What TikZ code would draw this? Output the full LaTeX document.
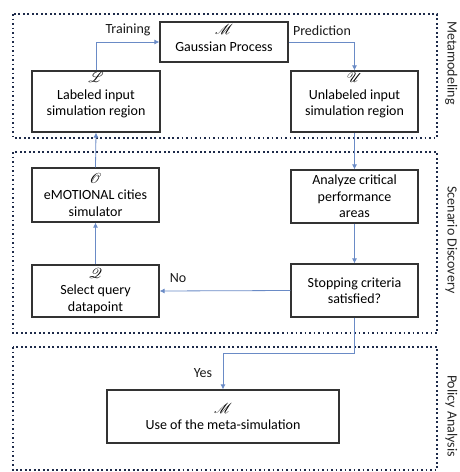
\documentclass[tikz,border=0pt]{standalone}
\usepackage{fontspec}
\setmainfont{Carlito}
\usepackage{mathrsfs}
\usetikzlibrary{arrows.meta}
\definecolor{arrowblue}{HTML}{6A8BC6}
\definecolor{boxgray}{HTML}{333333}
\definecolor{framenavy}{HTML}{1E2B4A}
\newcommand{\scr}[1]{{\fontsize{13.5}{14}\selectfont$\mathscr{#1}$}}
\begin{document}
\begin{tikzpicture}[x=1pt,y=-1pt,
  every node/.style={font=\fontsize{14}{16.5}\selectfont},
  procbox/.style={draw=boxgray, line width=1.2pt, align=center, inner sep=0pt},
  frame/.style={draw=framenavy, line width=2.3pt, dash pattern=on 1.7pt off 2.8pt},
  flow/.style={draw=arrowblue, line width=0.8pt, -{Latex[length=5pt,width=5pt]}},
  sidelabel/.style={rotate=-90, anchor=base, text=black!85},
  lbl/.style={text=black!90}]
\useasboundingbox (0,0) rectangle (459,472);
% frames
\draw[frame] (13,14) rectangle (437,138);
\draw[frame] (13,152) rectangle (437,333);
\draw[frame] (13,347) rectangle (437,470);
% side labels
\node[sidelabel] (sl1) at (447.5,63) {Metamodeling};
\node[sidelabel] (sl2) at (447.5,240) {Scenario Discovery};
\node[sidelabel] (sl3) at (447.5,416) {Policy Analysis};
% boxes
\node[procbox, minimum width=128pt, minimum height=40pt, text depth=8pt] (GP) at (224,42) {\scr{M}\\Gaussian Process};
\node[procbox, minimum width=128pt, minimum height=61pt, text depth=15pt] (L) at (96,101.5) {\scr{L}\\Labeled input\\simulation region};
\node[procbox, minimum width=127pt, minimum height=61pt, text depth=15pt] (U) at (354.5,101.5) {\scr{U}\\Unlabeled input\\simulation region};
\node[procbox, minimum width=127pt, minimum height=54pt] (O) at (95.5,195) {\scr{O}\\eMOTIONAL cities\\simulator};
\node[procbox, minimum width=127pt, minimum height=53pt] (An) at (354.5,196.5) {Analyze critical\\performance\\areas};
\node[procbox, minimum width=127pt, minimum height=52pt] (Q) at (95.5,291) {\scr{Q}\\Select query\\datapoint};
\node[procbox, minimum width=127pt, minimum height=53pt] (St) at (354.5,290.5) {Stopping criteria\\satisfied?};
\node[procbox, minimum width=232pt, minimum height=53pt] (Use) at (223,416.5) {\scr{M}\\Use of the meta-simulation};
% connectors
\draw[flow] (L.north) |- (GP.west);
\draw[flow] (GP.east) -| (U.north);
\draw[flow] (U.south) -- (An.north);
\draw[flow] (An.south) -- (St.north);
\draw[flow] (St.west) -- (Q.east);
\draw[flow] (Q.north) -- (O.south);
\draw[flow] (O.north) -- (L.south);
\coordinate (yb) at (354.5,353);
\draw[flow] (St.south) -- (yb) -| (Use.north);
% labels
\node[lbl] (tr) at (128,30) {Training};
\node[lbl] (pr) at (322,31) {Prediction};
\node[lbl] (no) at (178,278) {No};
\node[lbl] (yes) at (203,373) {Yes};
\end{tikzpicture}
\end{document}
